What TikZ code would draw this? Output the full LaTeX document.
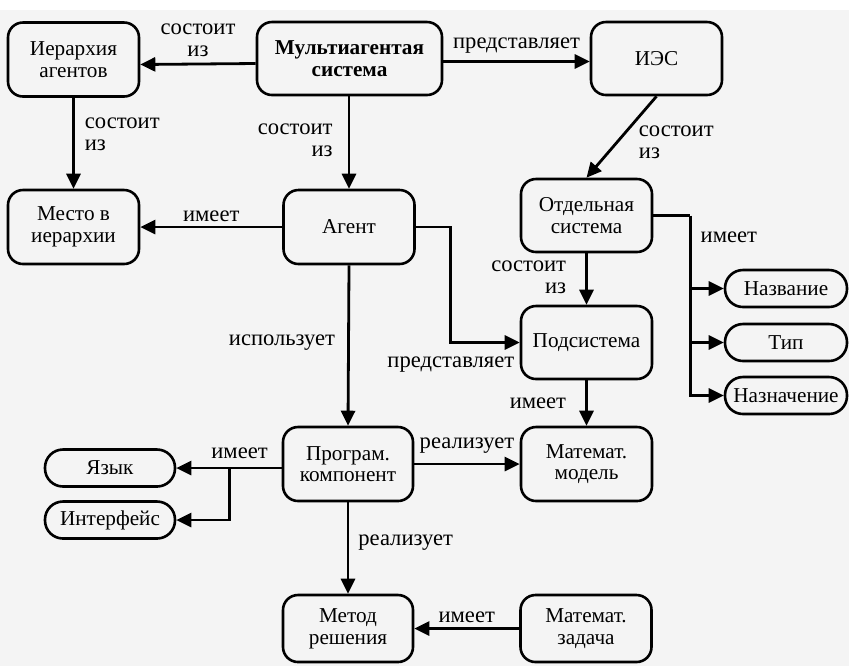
\documentclass[tikz,border=0pt]{standalone}
\usepackage{fontspec}
\setmainfont{Liberation Serif}
\usetikzlibrary{arrows.meta,calc}
\definecolor{paper}{RGB}{244,244,244}
\begin{document}
\begin{tikzpicture}[x=0.5pt,y=-0.5pt,
  box/.style={draw, line width=1.3pt, rounded corners=7.5pt,
    minimum width=65.5pt, minimum height=37pt, inner sep=0pt,
    align=center, font=\fontsize{10.6}{10.8}\selectfont},
  pill/.style={draw, line width=1.3pt, rounded corners=9pt,
    minimum width=65pt, minimum height=18.5pt, inner sep=0pt,
    font=\fontsize{10.6}{10.8}\selectfont},
  arr/.style={line width=1.4pt, -{Triangle[length=7.5pt,width=7pt]}},
  wire/.style={line width=1.4pt},
  lbl/.style={font=\fontsize{11.3}{11}\selectfont, inner sep=2pt},
]
\useasboundingbox (0,0) rectangle (849,666);
\fill[white] (0,0) rectangle (849,10);
\fill[paper] (0,10) rectangle (849,666);

% boxes
\node[box] (hier) at (73.5,59.5) {Иерархия\\агентов};
\node[box, minimum width=92.5pt, minimum height=36.5pt,
  font=\fontsize{10.6}{10.8}\selectfont\bfseries] (mas) at (349.5,58.5) {Мультиагентая\\система};
\node[box, minimum height=36.5pt] (ies) at (656.5,58.5) {ИЭС};
\node[box] (mesto) at (73.5,227) {Место в\\иерархии};
\node[box] (agent) at (349,227) {Агент};
\node[box, minimum height=36.5pt] (otd) at (586.5,215.5) {Отдельная\\система};
\node[box, minimum height=36.5pt] (podsys) at (586.5,342.5) {Подсистема};
\node[box] (model) at (586.5,464) {Математ.\\модель};
\node[box, minimum width=65pt] (prog) at (348,464) {Програм.\\компонент};
\node[box, minimum width=65pt, minimum height=33.5pt] (metod) at (348,628.5) {Метод\\решения};
\node[box, minimum height=33.5pt] (zadacha) at (586,628.5) {Математ.\\задача};

% rounded attribute boxes
\node[pill] (yazyk) at (110,468) {Язык};
\node[pill] (interf) at (110,520) {Интерфейс};
\node[pill, minimum width=61pt] (nazv) at (786,288.5) {Название};
\node[pill, minimum width=61pt] (tip) at (786,342.5) {Тип};
\node[pill, minimum width=61pt] (nazn) at (786,395.5) {Назначение};

% connectors
\draw[arr] ([yshift=-2.5pt]mas.west) -- node[lbl, above, align=center, yshift=1pt] (la) {состоит\\из} ([yshift=-2.5pt]hier.east);
\draw[arr] ([yshift=-1.5pt]mas.east) -- node[lbl, above, yshift=1.5pt] (lb) {представляет} ([yshift=-1.5pt]ies.west);
\draw[arr] (hier.south) -- node[lbl, right, align=left, xshift=3pt, yshift=4.5pt] (lc) {состоит\\из} (mesto.north);
\draw[arr] (agent.north |- mas.south) -- node[lbl, left, align=right, xshift=-5.5pt, yshift=1pt] (ld) {состоит\\из} (agent.north);
\draw[arr] (agent.west) -- node[lbl, above] (le) {имеет} (mesto.east);
\draw[arr] (ies.south) -- node[lbl, right, align=left, xshift=6pt, yshift=-2.5pt] (lf) {состоит\\из} (otd.north);
\draw[arr] (agent.east) -- ++(35,0) |- node[lbl, pos=0.5, below, yshift=-4.5pt] (lg) {представляет} (podsys.west);
\draw[arr] (otd.south) -- node[lbl, left, align=right, xshift=-7.5pt, yshift=1pt] (lh) {состоит\\из} (podsys.north);

\coordinate (br) at ($(otd.east)+(37,0)$);
\draw[wire] (otd.east) -- (br);
\draw[arr] (br) |- (nazn.west);
\draw[arr] (br |- nazv.west) -- (nazv.west);
\draw[arr] (br |- tip.west) -- (tip.west);
\node[lbl, anchor=west] (li) at ($(br)+(6,22)$) {имеет};

\draw[arr] (podsys.south) -- node[lbl, left, xshift=-7.5pt] (lj) {имеет} (model.north);
\draw[arr] (agent.south) -- node[lbl, left, xshift=-4pt, yshift=1.5pt] (lk) {использует} (prog.north);
\draw[arr] (prog.east |- model.west) -- node[lbl, above, yshift=2.5pt] (ll) {реализует} (model.west);

\coordinate (br2) at ($(yazyk.east)+(53,0)$);
\draw[arr] (prog.west |- yazyk.east) -- node[lbl, pos=0.4, above, yshift=2pt] (lm) {имеет} (yazyk.east);
\draw[arr] (br2) |- (interf.east);

\draw[arr] (prog.south) -- node[lbl, right, xshift=2.5pt, yshift=2.5pt] (ln) {реализует} (metod.north);
\draw[arr] (zadacha.west) -- node[lbl, above] (lo) {имеет} (metod.east);
\end{tikzpicture}
\end{document}
